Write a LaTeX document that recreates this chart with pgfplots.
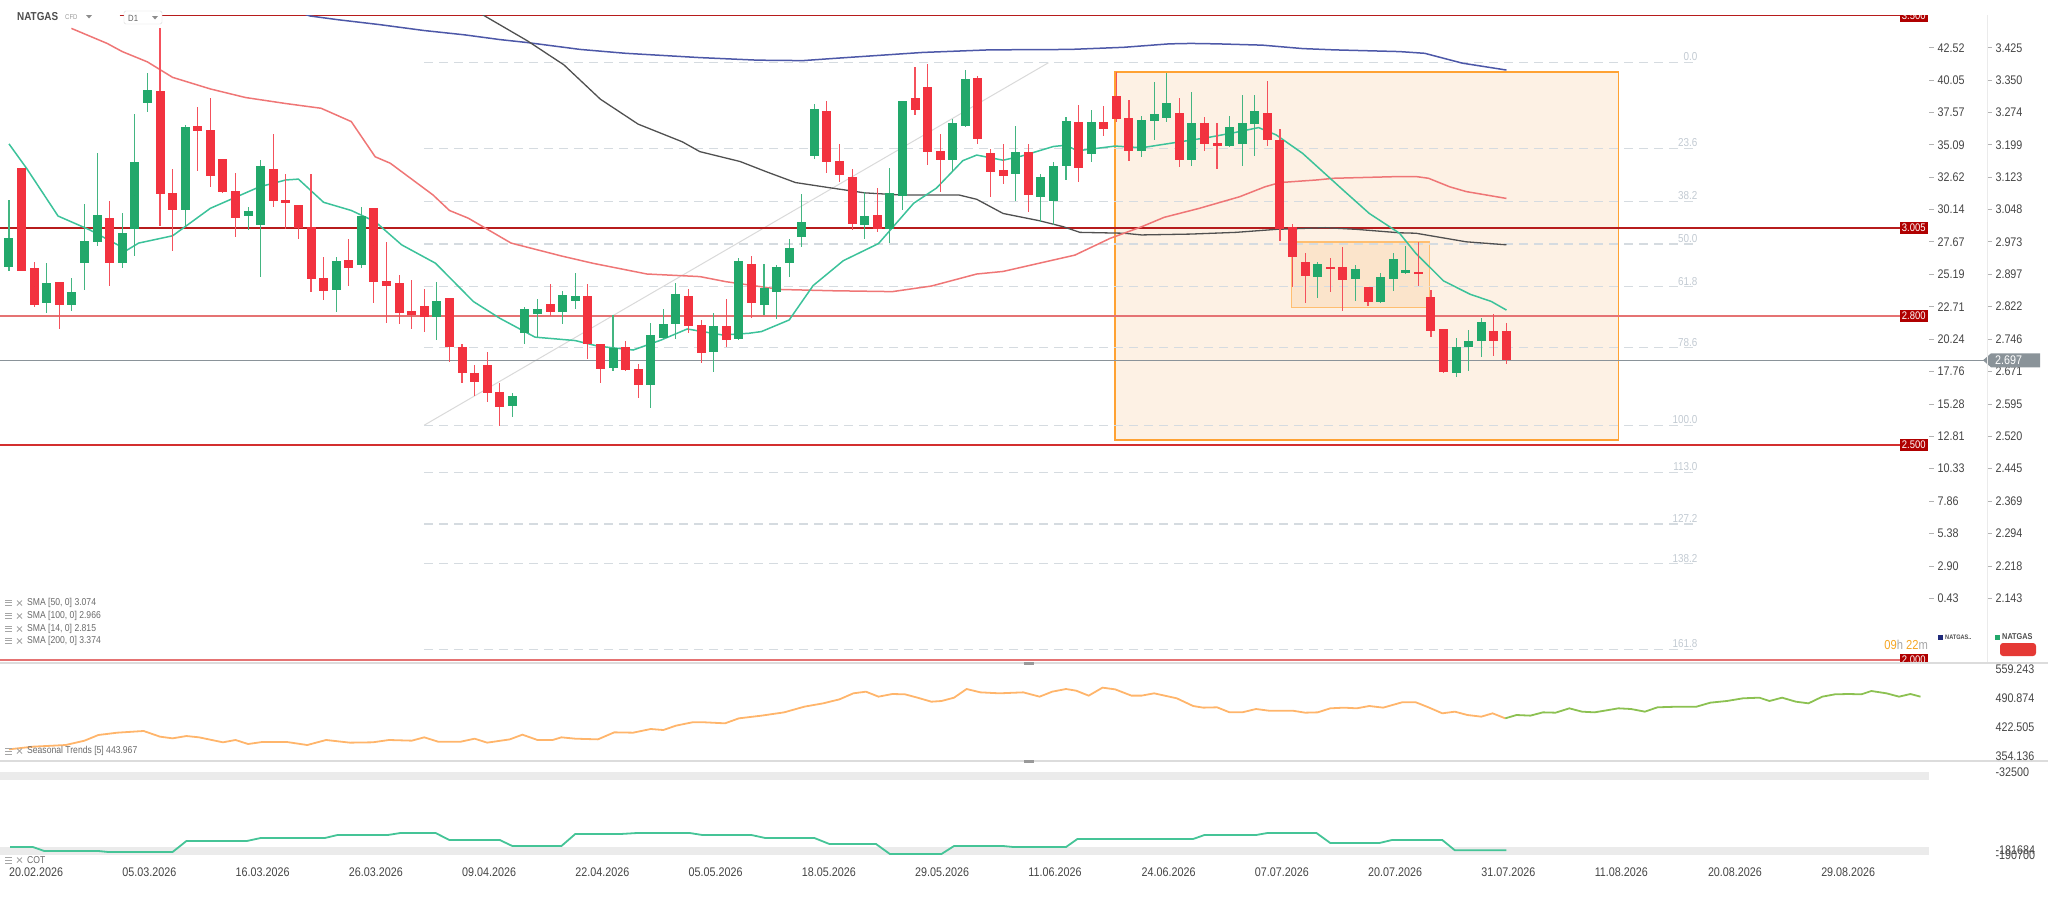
\documentclass[border=0pt]{standalone}
\usepackage{pgfplots}
\pgfplotsset{compat=1.18}
\usepackage{pgfplotstable}
\usepackage{fontspec}
\setmainfont{Liberation Sans}[FakeStretch=0.86]
\definecolor{cgreen}{HTML}{22A86B}
\definecolor{cred}{HTML}{F2323F}
\definecolor{sma14}{HTML}{3CC29A}
\definecolor{sma50}{HTML}{EF7676}
\definecolor{sma100}{HTML}{505050}
\definecolor{sma200}{HTML}{4D58A8}
\definecolor{fib}{HTML}{D5DBE0}
\definecolor{fibtxt}{HTML}{C2CAD2}
\definecolor{lvdark}{HTML}{B71C1C}
\definecolor{lvmid}{HTML}{D32F2F}
\definecolor{lvlight}{HTML}{E57373}
\definecolor{tagred}{HTML}{B00000}
\definecolor{boxfill}{HTML}{FDF1E4}
\definecolor{boxfill2}{HTML}{FBE4CB}
\definecolor{boxdraw}{HTML}{FFA233}
\definecolor{axtxt}{HTML}{454545}
\definecolor{seas}{HTML}{FFB56B}
\definecolor{seasg}{HTML}{8CC152}
\definecolor{cot}{HTML}{45C497}
\definecolor{band}{HTML}{EBEBEB}
\definecolor{sep}{HTML}{DCDCDC}
\definecolor{tagc}{HTML}{8A9399}
\definecolor{legtxt}{HTML}{6A6A6A}
\definecolor{orng}{HTML}{F5A623}
\definecolor{navy}{HTML}{1F2A7A}
\definecolor{redbtn}{HTML}{E53935}
\newcommand\lbl{\fontsize{12.5}{14}\selectfont}
\newcommand\fs[1]{\fontsize{#1}{#1}\selectfont}

\pgfplotstableread{
i o h l c
0 2.915 3.070 2.904 2.981
3 2.830 2.923 2.807 2.876
5 2.826 2.888 2.813 2.857
6 2.923 3.061 2.861 2.976
7 2.973 3.179 2.964 3.035
9 2.923 3.039 2.911 2.994
10 3.004 3.270 2.941 3.160
11 3.297 3.367 3.276 3.326
14 3.046 3.245 3.010 3.240
19 3.032 3.055 3.001 3.045
20 3.011 3.163 2.892 3.150
26 2.861 2.938 2.810 2.928
28 2.918 3.055 2.911 3.032
34 2.797 2.880 2.744 2.835
40 2.591 2.620 2.564 2.613
41 2.760 2.821 2.735 2.816
42 2.805 2.839 2.751 2.816
44 2.810 2.859 2.782 2.849
45 2.834 2.900 2.816 2.847
48 2.679 2.803 2.671 2.725
51 2.640 2.783 2.585 2.756
52 2.748 2.816 2.746 2.781
53 2.781 2.878 2.746 2.851
56 2.716 2.807 2.669 2.777
58 2.746 2.935 2.744 2.928
60 2.827 2.921 2.803 2.865
61 2.857 2.918 2.793 2.914
62 2.923 2.979 2.890 2.958
63 2.985 3.084 2.962 3.018
64 3.174 3.294 3.165 3.282
68 3.011 3.088 2.979 3.033
70 3.003 3.146 2.971 3.086
71 3.080 3.302 3.046 3.302
75 3.163 3.258 3.135 3.249
76 3.243 3.373 3.240 3.352
80 3.132 3.243 3.067 3.183
82 3.078 3.131 3.020 3.123
83 3.068 3.158 3.012 3.150
84 3.150 3.263 3.117 3.254
86 3.177 3.281 3.159 3.251
90 3.184 3.266 3.170 3.257
91 3.255 3.345 3.209 3.271
92 3.261 3.367 3.253 3.297
94 3.163 3.323 3.150 3.249
97 3.197 3.266 3.193 3.241
98 3.201 3.316 3.150 3.249
99 3.247 3.315 3.173 3.278
104 2.890 2.925 2.841 2.921
107 2.886 2.919 2.836 2.909
109 2.832 2.901 2.830 2.890
110 2.886 2.946 2.859 2.932
111 2.901 2.963 2.898 2.907
115 2.668 2.748 2.659 2.727
116 2.727 2.768 2.673 2.743
117 2.741 2.795 2.704 2.787
}\up

\pgfplotstableread{
i o h l c
1 3.146 3.146 2.904 2.906
2 2.913 2.927 2.821 2.827
4 2.880 2.880 2.769 2.827
8 3.028 3.067 2.871 2.923
12 3.324 3.470 3.010 3.084
13 3.087 3.142 2.952 3.046
15 3.243 3.286 3.139 3.231
16 3.233 3.307 3.100 3.127
17 3.166 3.166 3.086 3.090
18 3.092 3.133 2.985 3.028
21 3.142 3.223 3.053 3.067
22 3.070 3.130 3.004 3.063
23 3.059 3.059 2.979 3.004
24 3.007 3.130 2.855 2.886
25 2.888 2.938 2.838 2.859
27 2.931 2.979 2.870 2.913
29 3.051 3.051 2.831 2.880
30 2.882 2.973 2.785 2.871
31 2.876 2.896 2.782 2.807
32 2.812 2.884 2.769 2.803
33 2.824 2.862 2.764 2.797
35 2.843 2.843 2.692 2.727
36 2.727 2.735 2.645 2.668
37 2.667 2.686 2.613 2.647
38 2.686 2.717 2.601 2.620
39 2.623 2.645 2.545 2.588
43 2.828 2.875 2.800 2.810
46 2.847 2.874 2.699 2.734
47 2.735 2.735 2.644 2.676
49 2.727 2.741 2.673 2.675
50 2.677 2.689 2.609 2.640
54 2.847 2.862 2.760 2.776
55 2.779 2.791 2.690 2.713
57 2.777 2.839 2.729 2.744
59 2.921 2.940 2.796 2.830
65 3.278 3.302 3.134 3.160
66 3.162 3.200 3.113 3.129
67 3.123 3.142 3.001 3.014
69 3.035 3.098 2.995 3.003
72 3.307 3.379 3.268 3.280
73 3.333 3.387 3.153 3.183
74 3.185 3.223 3.090 3.163
77 3.355 3.358 3.201 3.212
78 3.179 3.188 3.078 3.136
79 3.140 3.200 3.108 3.127
81 3.183 3.200 3.043 3.081
85 3.251 3.292 3.113 3.146
87 3.251 3.289 3.220 3.236
88 3.313 3.369 3.253 3.258
89 3.262 3.303 3.162 3.185
93 3.272 3.307 3.148 3.163
95 3.249 3.264 3.185 3.201
96 3.202 3.249 3.143 3.197
100 3.272 3.347 3.195 3.209
101 3.210 3.236 2.976 3.002
102 3.008 3.015 2.867 2.938
103 2.925 2.946 2.830 2.894
105 2.915 2.936 2.857 2.911
106 2.915 2.962 2.813 2.883
108 2.867 2.867 2.824 2.832
112 2.903 2.972 2.871 2.898
113 2.845 2.861 2.751 2.765
114 2.769 2.769 2.667 2.669
118 2.765 2.805 2.706 2.741
119 2.765 2.785 2.688 2.698
}\down

\pgfplotstableread{
x y
0 3.201
1.4 3.144
3.9 3.033
6.4 3.001
9.4 2.954
10.3 2.970
13.0 2.987
16 3.051
19.9 3.101
22 3.117
23 3.119
25 3.065
27.2 3.046
29.1 3.020
31.2 2.966
33.9 2.923
36.9 2.834
39 2.795
41.8 2.751
45 2.743
46.8 2.730
49.6 2.721
51.8 2.744
53.9 2.770
56.7 2.756
58.8 2.760
59.8 2.764
62 2.791
63.9 2.871
66.3 2.929
69.1 2.969
70.5 3.016
71.9 3.063
73.7 3.098
75.8 3.162
76.9 3.175
79 3.163
80.5 3.173
83 3.195
84 3.198
84.9 3.185
87.9 3.196
90 3.192
92.2 3.202
95.3 3.216
97.5 3.228
99.3 3.239
100.7 3.222
102.8 3.179
106 3.094
108.1 3.039
110.5 2.993
111.8 2.946
114 2.882
116.1 2.851
117.8 2.834
119 2.814
}\smaA

\pgfplotstableread{
x y
4.96 3.470
7.8 3.435
9.0 3.416
11 3.392
13 3.356
16 3.329
18.8 3.309
22 3.295
24.8 3.284
27.2 3.253
29.1 3.171
30.3 3.156
33.7 3.082
35.0 3.046
36.5 3.028
39.9 2.970
43.9 2.940
46.4 2.923
50.7 2.898
54.9 2.892
57 2.880
61.3 2.862
65.5 2.859
70.2 2.857
73.3 2.870
76.9 2.898
79 2.904
84.7 2.942
87.5 2.981
90 3.008
91.8 3.030
94.6 3.051
97.8 3.078
99.8 3.101
101 3.111
103.9 3.117
105.3 3.121
110.5 3.125
111.8 3.125
112.8 3.121
114.5 3.101
115.8 3.090
119 3.074
}\smaB

\pgfplotstableread{
x y
37.5 3.505
37.8 3.499
41.2 3.441
44.1 3.385
47.0 3.305
50 3.247
53.5 3.206
54.9 3.183
58.1 3.160
60.2 3.136
62.5 3.111
65.2 3.099
68 3.087
70.9 3.082
75.5 3.082
76.9 3.072
79 3.039
81.9 3.022
83.8 3.008
85.1 2.995
88.6 2.993
90 2.989
93.9 2.991
97.5 2.995
100.7 3.002
104.6 3.006
107.1 3.002
110.5 2.994
111.8 2.993
113.8 2.983
115.8 2.973
119 2.966
}\smaC

\pgfplotstableread{
x y
23.5 3.503
23.9 3.499
26.2 3.490
29.4 3.479
33 3.465
36.2 3.455
39 3.444
41.2 3.437
45.4 3.421
49 3.412
54.9 3.402
59.5 3.396
63.1 3.395
65.5 3.400
72.6 3.414
77.9 3.420
84.3 3.421
88.6 3.426
92.2 3.434
93.9 3.435
96 3.434
99.6 3.431
102.8 3.423
105.3 3.420
110.5 3.416
112.5 3.412
115.5 3.389
119 3.373
}\smaD

\pgfplotstableread{
x y
0 369.2
1.9 375.5
4.5 379.4
6 389.7
7.1 403.1
8.6 408.6
10.7 412.6
12 399.2
13 395.2
14.1 400.7
15.1 397.6
17 385.8
18 391.3
19 381.8
20.1 386.5
22.1 386.5
23.7 379.4
25.2 391.3
27.1 385.0
28.9 385.8
30.2 391.3
32 389.7
33 397.6
34.1 387.3
35.9 387.3
37 394.4
38 385.0
39.8 392.8
40.8 403.9
42 391.3
43.2 391.3
43.9 397.6
45 394.4
46.8 392.8
48.1 409.4
49.6 408.6
51 417.3
52 414.9
53 425.2
54.3 433.1
55.3 433.1
56.9 430.7
58 442.5
59.8 448.9
61.6 456.7
63.2 470.1
64.7 478.0
66 487.5
67.1 501.7
68.1 505.6
69.1 493.8
70.2 500.1
71.2 499.3
72.2 491.4
73.3 481.9
74.1 483.5
75.1 491.4
76.1 511.9
77.2 504.0
78.7 501.7
80.6 504.0
81.9 493.8
82.9 505.6
84 511.9
84.8 508.0
85.8 496.2
86.9 515.1
87.9 511.1
89.2 496.2
90 496.2
91 501.7
92.8 489.9
94.1 471.7
94.9 467.8
96 468.6
97 456.7
98 456.7
99.1 464.6
100.1 460.7
102 460.7
103 455.9
104 456.7
105 466.2
106.1 467.8
107.1 466.2
108.1 471.7
109.2 467.8
110.7 480.4
111.8 480.4
112.8 468.6
113.9 454.4
114.9 458.3
115.9 450.4
117 446.5
117.9 454.4
118.9 442.5
}\seasA

\pgfplotstableread{
x y
118.9 442.5
119.8 450.4
120.9 448.9
121.9 456.7
122.9 455.9
124 466.2
125 458.3
126 456.7
127.9 466.2
128.9 464.6
130 458.3
131 468.6
132.6 470.1
134.1 470.1
135.2 479.6
136.5 483.5
137.8 489.9
139.1 491.4
139.9 483.5
140.9 491.4
142 481.9
143 478.0
144.1 493.8
145.1 499.3
146.2 500.1
147.2 499.3
148 507.2
149.2 501.7
150.2 493.8
151.1 500.1
151.9 493.8
}\seasB

\pgfplotstableread{
x y
0.08 -175450
1.9 -175450
2.8 -183074
7.1 -183074
7.9 -184980
13.0 -184980
14.1 -163990
18.9 -163990
20.0 -158300
25.1 -158300
26.1 -152580
30.1 -152580
31.1 -148770
33.9 -148770
35.0 -162110
39.0 -162110
40.0 -173540
43.9 -173540
45.0 -150670
48.6 -150670
49.9 -148770
54.1 -148770
55.1 -152580
59.0 -152580
60.1 -158300
64.0 -158300
65.2 -169730
68.9 -169730
70.0 -188790
74.1 -188790
75.1 -173540
79.0 -173540
79.8 -175450
84.0 -175450
84.9 -160200
94.1 -160200
95.0 -152580
99.1 -152580
100.0 -148770
103.9 -148770
105.0 -167830
108.9 -167830
109.9 -162110
113.9 -162110
114.9 -181684
119.0 -181684
}\cotdata

\pgfplotsset{
  wick/.style={only marks, mark=*, mark size=0pt, mark options={draw=none, fill=none}, forget plot,
    error bars/.cd, y dir=both, y explicit, error mark=none,
    error bar style={line width=1.1pt, #1}},
  body/.style={only marks, mark=*, mark size=0pt, mark options={draw=none, fill=none}, forget plot,
    error bars/.cd, y dir=both, y explicit, error mark=none,
    error bar style={line width=9pt, #1}},
}

\begin{document}
\begin{tikzpicture}
\path[use as bounding box] (0pt,0pt) rectangle (2048pt,-897pt);

% ---------------- main price panel ----------------
\begin{axis}[at={(0pt,-15pt)}, anchor=north west, width=1928pt, height=648pt,
  scale only axis, xmin=-0.715, xmax=152.5, ymin=1.9921, ymax=3.5012,
  axis lines=none, clip mode=individual]

% boxes
\fill[boxfill] (axis cs:87.9,3.369) rectangle (axis cs:127.9,2.512);
\fill[boxfill2] (axis cs:101.9,2.973) rectangle (axis cs:112.9,2.820);
\draw[boxdraw, line width=1.5pt] (axis cs:87.9,3.369) rectangle (axis cs:127.9,2.512);
\draw[boxdraw!70, line width=1.5pt] (axis cs:101.9,2.973) rectangle (axis cs:112.9,2.820);

% fibonacci
\draw[black!15, line width=1pt] (axis cs:33,2.546) -- (axis cs:82.6,3.390);
\foreach \v/\t in {3.390/0.0, 3.191/23.6, 3.067/38.2, 2.968/50.0, 2.868/61.8, 2.726/78.6, 2.546/100.0, 2.436/113.0, 2.316/127.2, 2.223/138.2, 2.024/161.8}{
  \edef\temp{\noexpand\draw[fib, line width=1.2pt, dash pattern=on 9pt off 6pt] (axis cs:33,\v) -- (axis cs:134.3,\v);
  \noexpand\node[anchor=south east, inner sep=1.5pt, text=fibtxt, font=\noexpand\fs{11.5}] at (axis cs:134.3,\v) {\t};}
  \temp
}

% horizontal levels
\draw[lvdark, line width=1.4pt] (axis cs:8.8,3.500) -- (axis cs:152.5,3.500);
\draw[lvdark, line width=1.4pt] (axis cs:-0.715,3.005) -- (axis cs:152.5,3.005);
\draw[lvlight, line width=2pt] (axis cs:-0.715,2.800) -- (axis cs:152.5,2.800);
\draw[lvmid, line width=2.4pt] (axis cs:-0.715,2.500) -- (axis cs:152.5,2.500);
\draw[lvlight, line width=2pt] (axis cs:-0.715,2.000) -- (axis cs:152.5,2.000);
\draw[tagc, line width=1.1pt] (axis cs:-0.715,2.697) -- (axis cs:157.2,2.697);

% moving averages
\addplot[sma200, line width=1.5pt, forget plot] table {\smaD};
\addplot[sma100, line width=1.3pt, forget plot] table {\smaC};
\addplot[sma50, line width=1.5pt, forget plot] table {\smaB};
\addplot[sma14, line width=1.5pt, forget plot] table {\smaA};

% candles
\addplot[wick=cgreen!85] table[x=i, y expr={(\thisrow{h}+\thisrow{l})/2}, y error expr={(\thisrow{h}-\thisrow{l})/2}] {\up};
\addplot[wick=cred!85] table[x=i, y expr={(\thisrow{h}+\thisrow{l})/2}, y error expr={(\thisrow{h}-\thisrow{l})/2}] {\down};
\addplot[body=cgreen] table[x=i, y expr={(\thisrow{o}+\thisrow{c})/2}, y error expr={max(abs(\thisrow{c}-\thisrow{o})/2,0.0015)}] {\up};
\addplot[body=cred] table[x=i, y expr={(\thisrow{o}+\thisrow{c})/2}, y error expr={max(abs(\thisrow{c}-\thisrow{o})/2,0.0015)}] {\down};

% level tags
\foreach \v in {3.005, 2.800, 2.500}{
  \edef\temp{\noexpand\node[anchor=east, fill=tagred, text=white, inner sep=2.2pt, font=\noexpand\fs{11}] at (axis cs:152.5,\v) {\v};}
  \temp
}

% price axis labels
\foreach \p/\a in {3.425/42.52, 3.350/40.05, 3.274/37.57, 3.199/35.09, 3.123/32.62, 3.048/30.14, 2.973/27.67, 2.897/25.19, 2.822/22.71, 2.746/20.24, 2.671/17.76, 2.595/15.28, 2.520/12.81, 2.445/10.33, 2.369/7.86, 2.294/5.38, 2.218/2.90, 2.143/0.43}{
  \edef\temp{\noexpand\node[anchor=west, inner sep=0pt, text=axtxt, font=\noexpand\lbl] at (axis cs:153.25,\p) {\a};
  \noexpand\node[anchor=west, inner sep=0pt, text=axtxt, font=\noexpand\lbl] at (axis cs:157.85,\p) {\p};
  \noexpand\draw[black!30, line width=0.8pt] (axis cs:152.6,\p) -- (axis cs:152.95,\p);
  \noexpand\draw[black!30, line width=0.8pt] (axis cs:157.2,\p) -- (axis cs:157.55,\p);}
  \temp
}
\end{axis}

% clipped 3.500 and 2.000 tags
\begin{scope}
\clip (1880pt,-15.5pt) rectangle (1935pt,-30pt);
\node[anchor=east, fill=tagred, text=white, inner sep=2.2pt, font=\fs{11}] at (1928pt,-15.5pt) {3.500};
\end{scope}
\begin{scope}
\clip (1880pt,-640pt) rectangle (1935pt,-663pt);
\node[anchor=east, fill=tagred, text=white, inner sep=2.2pt, font=\fs{11}] at (1928pt,-659.6pt) {2.000};
\end{scope}

% current price tag
\fill[tagc] (1983pt,-360.3pt) -- (1991pt,-353.3pt) -- (2040pt,-353.3pt) -- (2040pt,-367.3pt) -- (1991pt,-367.3pt) -- cycle;
\node[text=white, inner sep=0pt, font=\lbl, anchor=west] at (1995pt,-360.3pt) {2.697};

% vertical separator
\draw[black!8, line width=1pt] (1987pt,-15pt) -- (1987pt,-663pt);

% header
\node[anchor=west, inner sep=0pt, text=black!70, font=\bfseries\fs{11.5}] at (17pt,-16.5pt) {NATGAS};
\node[anchor=west, inner sep=0pt, text=black!40, font=\fs{7}] at (65pt,-17.5pt) {CFD};
\fill[black!45] (86pt,-15pt) -- (92pt,-15pt) -- (89pt,-18.5pt) -- cycle;
\draw[black!15, rounded corners=1.5pt, fill=white] (124pt,-11pt) rectangle (162pt,-24pt);
\node[anchor=west, inner sep=0pt, text=black!60, font=\fs{9}] at (128pt,-18pt) {D1};
\fill[black!45] (152pt,-16pt) -- (158pt,-16pt) -- (155pt,-19.5pt) -- cycle;

% SMA legend
\foreach \yy/\t in {603/{SMA [50, 0] 3.074}, 616/{SMA [100, 0] 2.966}, 629/{SMA [14, 0] 2.815}, 641/{SMA [200, 0] 3.374}}{
  \draw[black!35, line width=0.7pt] (5pt,-\yy pt+3pt) -- (12pt,-\yy pt+3pt) (5pt,-\yy pt+0.5pt) -- (12pt,-\yy pt+0.5pt) (5pt,-\yy pt-2pt) -- (12pt,-\yy pt-2pt);
  \draw[black!35, line width=0.9pt] (17pt,-\yy pt+2.5pt) -- (22pt,-\yy pt-2.5pt) (17pt,-\yy pt-2.5pt) -- (22pt,-\yy pt+2.5pt);
  \node[anchor=west, inner sep=0pt, text=legtxt, font=\fs{10}] at (27pt,-\yy pt) {\t};
}

% bottom-right legend + timer
\fill[navy] (1938pt,-634.5pt) rectangle (1943pt,-639.5pt);
\node[anchor=west, inner sep=0pt, text=black!70, font=\bfseries\fs{6.5}] at (1945pt,-637pt) {NATGAS..};
\fill[cgreen] (1995pt,-634.5pt) rectangle (2000pt,-639.5pt);
\node[anchor=west, inner sep=0pt, text=black!70, font=\bfseries\fs{8.5}] at (2002pt,-637pt) {NATGAS};
\fill[redbtn, rounded corners=3pt] (2000pt,-643pt) rectangle (2036pt,-656pt);
\node[anchor=east, inner sep=0pt, font=\fs{13}] at (1928pt,-645pt) {\textcolor{orng}{09}\textcolor{black!35}{h} \textcolor{orng}{22}\textcolor{black!35}{m}};

% separators
\draw[sep, line width=1.2pt] (0pt,-663pt) -- (2048pt,-663pt);
\draw[sep, line width=1.2pt] (0pt,-761pt) -- (2048pt,-761pt);
\fill[black!40] (1024pt,-662pt) rectangle (1034pt,-665pt);
\fill[black!40] (1024pt,-760pt) rectangle (1034pt,-763pt);

% ---------------- seasonal panel ----------------
\begin{axis}[at={(0pt,-663pt)}, anchor=north west, width=1928pt, height=98pt,
  scale only axis, xmin=-0.715, xmax=152.5, ymin=341.6, ymax=573.4,
  axis lines=none, clip mode=individual]
\addplot[seas, line width=1.8pt, forget plot] table {\seasA};
\addplot[seasg, line width=1.8pt, forget plot] table {\seasB};
\foreach \v in {559.243, 490.874, 422.505, 354.136}{
  \edef\temp{\noexpand\node[anchor=west, inner sep=0pt, text=axtxt, font=\noexpand\lbl] at (axis cs:157.85,\v) {\v};}
  \temp
}
\end{axis}
\draw[black!35, line width=0.7pt] (5pt,-754pt) -- (12pt,-754pt) (5pt,-751pt) -- (12pt,-751pt) (5pt,-748pt) -- (12pt,-748pt);
\draw[black!35, line width=0.9pt] (17pt,-748.5pt) -- (22pt,-753.5pt) (17pt,-753.5pt) -- (22pt,-748.5pt);
\node[anchor=west, inner sep=0pt, text=legtxt, font=\fs{10}] at (27pt,-751pt) {Seasonal Trends [5] 443.967};

% ---------------- COT panel ----------------
\begin{axis}[at={(0pt,-761pt)}, anchor=north west, width=1928pt, height=99pt,
  scale only axis, xmin=-0.715, xmax=152.5, ymin=-200228, ymax=-11534,
  axis lines=none, clip mode=individual]
\fill[band] (axis cs:-0.715,-32500) rectangle (axis cs:152.6,-47748);
\fill[band] (axis cs:-0.715,-175450) rectangle (axis cs:152.6,-190700);
\addplot[cot, line width=1.8pt, forget plot] table {\cotdata};
\node[anchor=west, inner sep=0pt, text=axtxt, font=\lbl] at (axis cs:157.85,-32500) {-32500};
\node[anchor=west, inner sep=0pt, text=axtxt, font=\lbl] at (axis cs:157.85,-190700) {-190700};
\node[anchor=west, inner sep=0pt, text=axtxt, font=\lbl] at (axis cs:157.85,-181684) {-181684};
\foreach \i/\d in {0/20.02.2026, 9/05.03.2026, 18/16.03.2026, 27/26.03.2026, 36/09.04.2026, 45/22.04.2026, 54/05.05.2026, 63/18.05.2026, 72/29.05.2026, 81/11.06.2026, 90/24.06.2026, 99/07.07.2026, 108/20.07.2026, 117/31.07.2026, 126/11.08.2026, 135/20.08.2026, 144/29.08.2026}{
  \edef\temp{\noexpand\node[anchor=west, inner sep=0pt, text=axtxt, font=\noexpand\lbl] at (axis cs:\i,-223100) {\d};}
  \temp
}
\end{axis}
\draw[black!35, line width=0.7pt] (5pt,-863pt) -- (12pt,-863pt) (5pt,-860pt) -- (12pt,-860pt) (5pt,-857pt) -- (12pt,-857pt);
\draw[black!35, line width=0.9pt] (17pt,-857.5pt) -- (22pt,-862.5pt) (17pt,-862.5pt) -- (22pt,-857.5pt);
\node[anchor=west, inner sep=0pt, text=legtxt, font=\fs{10}] at (27pt,-860pt) {COT};

\end{tikzpicture}
\end{document}
